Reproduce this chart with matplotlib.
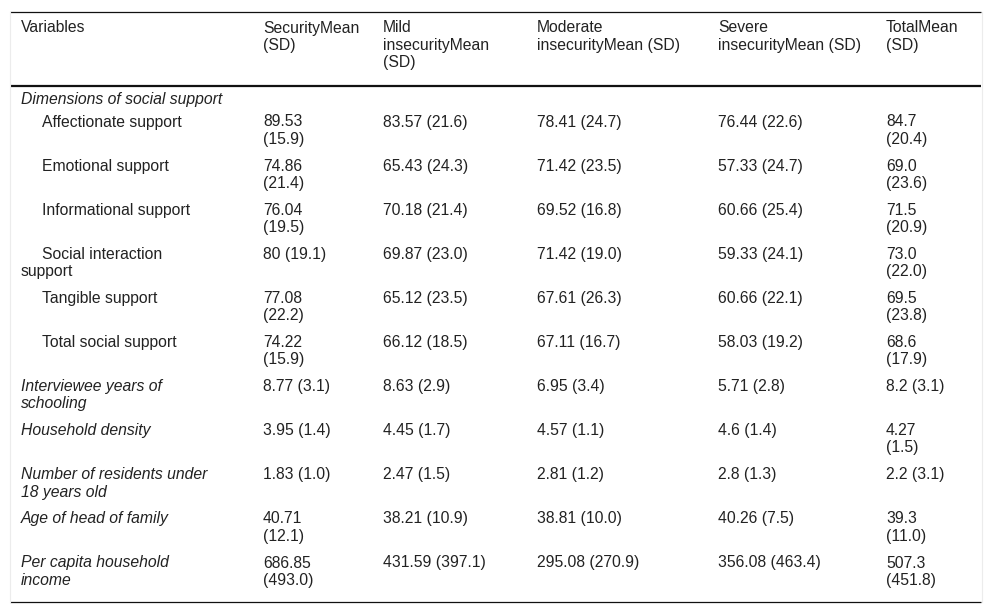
import textwrap
import matplotlib
matplotlib.use("Agg")
import matplotlib.pyplot as plt

# ---- data ----
headers = ["Variables", "SecurityMean (SD)", "Mild insecurityMean (SD)",
           "Moderate insecurityMean (SD)", "Severe insecurityMean (SD)", "TotalMean (SD)"]
section_label = "Dimensions of social support"
sub_labels = ["Affectionate support", "Emotional support", "Informational support",
              "Social interaction support", "Tangible support", "Total social support"]
other_labels = ["Interviewee years of schooling", "Household density",
                "Number of residents under 18 years old", "Age of head of family",
                "Per capita household income"]
security = ["89.53 (15.9)", "74.86 (21.4)", "76.04 (19.5)", "80 (19.1)", "77.08 (22.2)",
            "74.22 (15.9)", "8.77 (3.1)", "3.95 (1.4)", "1.83 (1.0)", "40.71 (12.1)",
            "686.85 (493.0)"]
mild = ["83.57 (21.6)", "65.43 (24.3)", "70.18 (21.4)", "69.87 (23.0)", "65.12 (23.5)",
        "66.12 (18.5)", "8.63 (2.9)", "4.45 (1.7)", "2.47 (1.5)", "38.21 (10.9)",
        "431.59 (397.1)"]
moderate = ["78.41 (24.7)", "71.42 (23.5)", "69.52 (16.8)", "71.42 (19.0)", "67.61 (26.3)",
            "67.11 (16.7)", "6.95 (3.4)", "4.57 (1.1)", "2.81 (1.2)", "38.81 (10.0)",
            "295.08 (270.9)"]
severe = ["76.44 (22.6)", "57.33 (24.7)", "60.66 (25.4)", "59.33 (24.1)", "60.66 (22.1)",
          "58.03 (19.2)", "5.71 (2.8)", "4.6 (1.4)", "2.8 (1.3)", "40.26 (7.5)",
          "356.08 (463.4)"]
total = ["84.7 (20.4)", "69.0 (23.6)", "71.5 (20.9)", "73.0 (22.0)", "69.5 (23.8)",
         "68.6 (17.9)", "8.2 (3.1)", "4.27 (1.5)", "2.2 (3.1)", "39.3 (11.0)",
         "507.3 (451.8)"]

# ---- layout ----
plt.rcParams["font.family"] = ["Liberation Sans", "DejaVu Sans"]
W, H = 992, 613
fig = plt.figure(figsize=(W / 100, H / 100), dpi=100)
ax = fig.add_axes([0, 0, 1, 1])
ax.set_xlim(0, W)
ax.set_ylim(H, 0)
ax.axis("off")

FS = 11.3
COLOR = "#222222"
col_x = [21, 263, 383, 537, 718, 886]
header_wrap = [30, 12, 14, 20, 20, 10]
value_wrap = [None, 10, 20, 20, 20, 9]
LINE = 17.2

def put(x, y, s, italic=False):
    ax.text(x, y, s, fontsize=FS, color=COLOR, va="center", ha="left",
            style="italic" if italic else "normal")

# frame lines
ax.plot([10, 981], [11.5, 11.5], color="#111111", lw=0.9, solid_capstyle="butt")
ax.plot([10, 981], [86, 86], color="#111111", lw=1.6, solid_capstyle="butt")
ax.plot([10, 981], [601.5, 601.5], color="#111111", lw=0.9, solid_capstyle="butt")
ax.plot([9.5, 9.5], [11.5, 601.5], color="#ececec", lw=0.8)
ax.plot([981.5, 981.5], [11.5, 601.5], color="#ececec", lw=0.8)

# header
for j, h in enumerate(headers):
    for k, line in enumerate(textwrap.wrap(h, header_wrap[j])):
        put(col_x[j], 28 + k * LINE, line)

# section row
put(col_x[0], 99.5, section_label, italic=True)

labels = sub_labels + other_labels
columns = [security, mild, moderate, severe, total]
y0 = 122
PITCH = 44.1
for i, lab in enumerate(labels):
    y = y0 + i * PITCH
    indented = i < len(sub_labels)
    if indented:
        lines = textwrap.wrap(lab, 25, initial_indent="    ")
        put(col_x[0] + 21, y, lines[0].strip())
        for k, line in enumerate(lines[1:], start=1):
            put(col_x[0], y + k * LINE, line)
    else:
        for k, line in enumerate(textwrap.wrap(lab, 25)):
            put(col_x[0], y + k * LINE, line, italic=True)
    for j, col in enumerate(columns, start=1):
        for k, line in enumerate(textwrap.wrap(col[i], value_wrap[j])):
            put(col_x[j], y + k * LINE, line)

fig.savefig("out.png", dpi=100, facecolor="white")
